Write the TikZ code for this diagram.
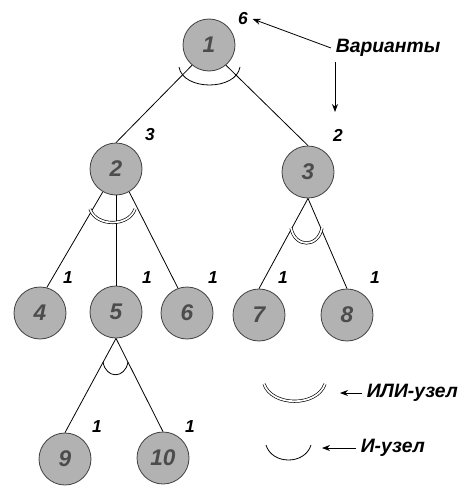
\documentclass[tikz,border=0pt]{standalone}
\usepackage{fontspec}
\setmainfont{Liberation Sans}
\usetikzlibrary{arrows.meta}
\begin{document}
\begin{tikzpicture}[>={Stealth[length=6pt,width=4.5pt]}, x=0.75pt, y=-0.75pt, line width=0.6pt,
  vert/.style={circle, draw=black!75, fill=black!30, minimum size=39pt, inner sep=0pt,
    font=\fontsize{17}{17}\selectfont\bfseries\itshape, text=black!70},
  wt/.style={font=\fontsize{13}{13}\selectfont\bfseries\itshape},
  ili/.style={double, double distance=1.3pt, line width=0.5pt},
  lbl/.style={anchor=west, font=\fontsize{14.5}{14.5}\selectfont\bfseries\itshape}]
\useasboundingbox (0,0) rectangle (472,489);

\node [vert] (n1) at (209,45) {1};
\node [vert] (n2) at (116,169) {2};
\node [vert] (n3) at (308,172) {3};
\node [vert] (n4) at (40,313) {4};
\node [vert] (n5) at (116,312) {5};
\node [vert] (n6) at (187,313) {6};
\node [vert] (n7) at (259,315) {7};
\node [vert] (n8) at (347,315) {8};
\node [vert] (n9) at (65,459) {9};
\node [vert] (n10) at (163,458) {10};

\draw (n1.230)--(n2.north);
\draw (n1.310)--(n3.north);
\draw (n2.240)--(n4.75);
\draw (n2)--(n5);
\draw (n2.300)--(n6.110);
\draw (n3.south)--(n7.north);
\draw (n3.south)--(n8.north);
\draw (n5.south)--(n9.north);
\draw (n5.south)--(n10.north);

\node [wt] (w1) at (243,19) {6};
\node [wt] (w2) at (150,135) {3};
\node [wt] (w3) at (338,135) {2};
\node [wt] (w4) at (68,278) {1};
\node [wt] (w5) at (147,278) {1};
\node [wt] (w6) at (213,278) {1};
\node [wt] (w7) at (283,278) {1};
\node [wt] (w8) at (375,278) {1};
\node [wt] (w9) at (97,427) {1};
\node [wt] (w10) at (190,427) {1};

\draw ([shift={(-30,22)}]n1.center) .. controls +(4,24) and +(-4,24) .. ([shift={(31,22)}]n1.center);
\draw [ili] ([shift={(-26,40)}]n2.center) .. controls +(6,18) and +(-6,18) .. ([shift={(19,40)}]n2.center);
\draw [ili] ([shift={(-17,56)}]n3.center) .. controls +(4,20) and +(-4,20) .. ([shift={(14,56)}]n3.center);
\draw ([shift={(-13,50)}]n5.center) .. controls +(3,17) and +(-3,17) .. ([shift={(12,50)}]n5.center);

\node [lbl] (var) at (331,48) {Варианты};
\coordinate (vd) at (335,112);
\draw [->] (var.west)--(w1.east);
\draw [->] (var.south west -| vd)--(vd);

\draw [ili] (264,384) .. controls (272,407) and (317,407) .. (325,384);
\draw (266,445) .. controls (272,465) and (305,465) .. (311,445);
\node [lbl] (orl) at (362,393) {ИЛИ-узел};
\node [lbl] (andl) at (356,448) {И-узел};
\coordinate (ort) at (340,393);
\coordinate (andt) at (322,448);
\draw [->] (orl.west)--(ort);
\draw [->] (andl.west)--(andt);
\end{tikzpicture}
\end{document}
